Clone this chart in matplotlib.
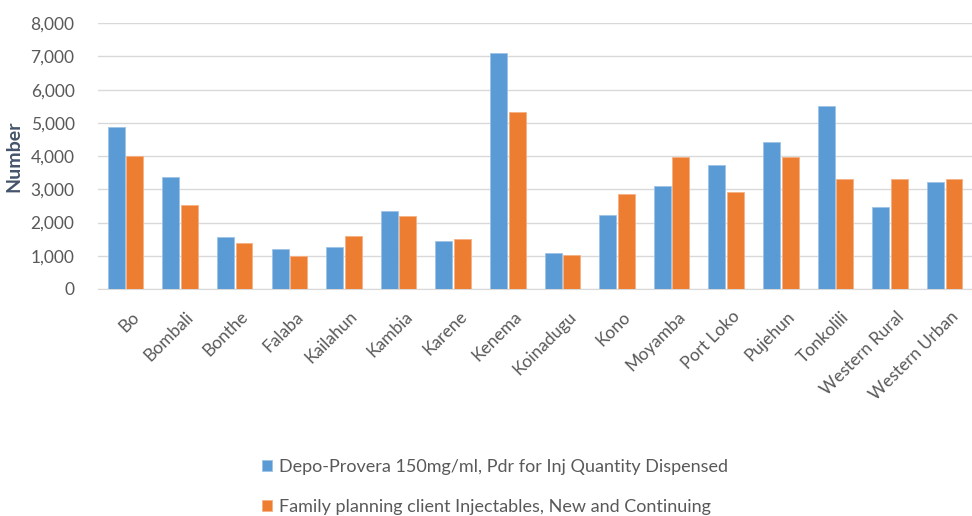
import matplotlib.pyplot as plt
import numpy as np

districts = ['Bo', 'Bombali', 'Bonthe', 'Falaba', 'Kailahun', 'Kambia', 'Karene', 'Kenema',
             'Koinadugu', 'Kono', 'Moyamba', 'Port Loko', 'Pujehun', 'Tonkolili',
             'Western Rural', 'Western Urban']
depo_provera = [4870, 3380, 1550, 1210, 1260, 2360, 1440, 7110,
                1080, 2240, 3100, 3730, 4410, 5500, 2470, 3220]
fp_injectables = [4010, 2530, 1380, 980, 1600, 2190, 1490, 5330,
                  1030, 2870, 3960, 2930, 3960, 3320, 3320, 3320]

series_names = ['Depo-Provera 150mg/ml, Pdr for Inj Quantity Dispensed',
                'Family planning client Injectables, New and Continuing']

plt.rcParams['font.family'] = ['Lato', 'DejaVu Sans']
grey = '#595959'

fig = plt.figure(figsize=(9.72, 5.16), dpi=100)
ax = fig.add_axes([0.101, 0.44, 0.899, 0.515])

x = np.arange(len(districts))
w = 0.31
ax.bar(x - 0.17, depo_provera, w, color='#5B9BD5', edgecolor='#9DC3E6', linewidth=0.6,
       label=series_names[0], zorder=3)
ax.bar(x + 0.17, fp_injectables, w, color='#ED7D31', edgecolor='#F4B183', linewidth=0.6,
       label=series_names[1], zorder=3)

ax.set_xlim(-0.5, len(districts) - 0.5)
ax.set_ylim(0, 8000)
ax.set_yticks(range(0, 8001, 1000))
ax.set_yticklabels([f'{v:,}' for v in range(0, 8001, 1000)], fontsize=12.5, color=grey)
ax.yaxis.grid(True, color='#D9D9D9', linewidth=1, zorder=0)
for s in ['top', 'right', 'left']:
    ax.spines[s].set_visible(False)
ax.spines['bottom'].set_color('#D9D9D9')
ax.tick_params(length=0)
ax.tick_params(axis='y', pad=17)

ax.set_xticks(x + 0.1)
ax.set_xticklabels(districts, rotation=45, ha='right', rotation_mode='anchor',
                   fontsize=12.5, color=grey)
ax.tick_params(axis='x', pad=14)

ax.set_ylabel('Number', fontsize=14, fontweight='bold', color='#44546A', labelpad=6)

handles, labels = ax.get_legend_handles_labels()
fig.legend(handles, labels, loc='upper left', bbox_to_anchor=(0.262, 0.125), frameon=False,
           fontsize=13, labelcolor=grey, handlelength=0.55, handleheight=0.55,
           handletextpad=0.4, labelspacing=1.35, borderaxespad=0)

fig.savefig('out.png', dpi=100)
